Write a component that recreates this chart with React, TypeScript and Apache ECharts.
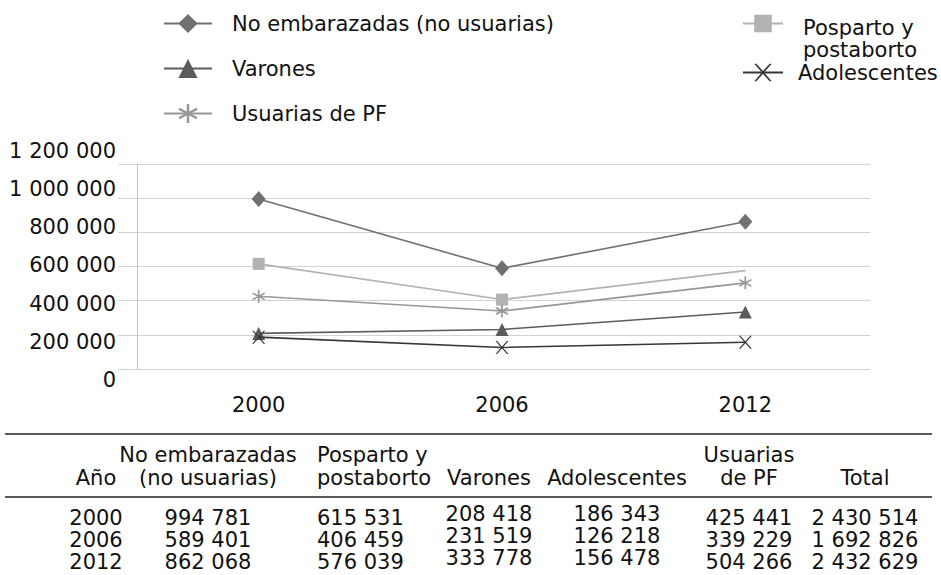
import React, { useEffect, useRef } from 'react';
import * as echarts from 'echarts';

// ---------- data ----------
const years = ['2000', '2006', '2012'];
const noEmbarazadas = [994781, 589401, 862068];
const posparto = [615531, 406459, 576039];
const usuariasPF = [425441, 339229, 504266];
const varones = [208418, 231519, 333778];
const adolescentes = [186343, 126218, 156478];
const totals = [2430514, 1692826, 2432629];

const nameNoEmb = 'No embarazadas (no usuarias)';
const namePosparto = 'Posparto y postaborto';
const nameUsuarias = 'Usuarias de PF';
const nameVarones = 'Varones';
const nameAdol = 'Adolescentes';

const yMin = 0;
const yMax = 1200000;
const yStep = 200000;

const tableHeaders = [
  ['', 'Año'],
  ['No embarazadas', '(no usuarias)'],
  ['Posparto y', 'postaborto'],
  ['', 'Varones'],
  ['', 'Adolescentes'],
  ['Usuarias', 'de PF'],
  ['', 'Total'],
];
const tableValues: (string | number)[][] = [years, noEmbarazadas, posparto, varones, adolescentes, usuariasPF, totals];

// ---------- layout / style ----------
const FONT = 'DejaVu Sans';
const TXT = '#111111';
const colX = [96, 208, 317, 489, 617, 749, 865];
const colAlign = ['center', 'center', 'left', 'center', 'center', 'center', 'center'];
const colShift = [0, 0, 0, -3.5, -3.5, 0, 0];
const headerY = [455, 477.5];
const rowY = [517.5, 539.5, 561.5];
const ruleY = [434, 497];

const ASTERISK = 'path://M44 0L56 0L56 100L44 100Z M9.7 19.8L96.3 69.8L90.3 80.2L3.7 30.2Z M3.7 69.8L90.3 19.8L96.3 30.2L9.7 80.2Z';
const CROSS = 'path://M0 0L12 0L50 42L88 0L100 0L56 50L100 100L88 100L50 58L12 100L0 100L44 50Z';

const fmt = (v: string | number) =>
  typeof v === 'string' ? v : String(v).replace(/\B(?=(\d{3})+(?!\d))/g, ' ');

function buildTable() {
  const els: any[] = [];
  ruleY.forEach((y) =>
    els.push({
      type: 'line',
      shape: { x1: 5, y1: y, x2: 932, y2: y },
      style: { stroke: '#222', lineWidth: 1.5 },
      silent: true,
    })
  );
  tableHeaders.forEach((lines, c) => {
    lines.forEach((t, li) => {
      if (!t) return;
      els.push({
        type: 'text',
        x: colX[c],
        y: headerY[li],
        silent: true,
        style: { text: t, fontSize: 21, fontFamily: FONT, fill: TXT, align: colAlign[c], verticalAlign: 'middle' },
      });
    });
  });
  tableValues.forEach((vals, c) => {
    vals.forEach((v, r) => {
      els.push({
        type: 'text',
        x: colX[c],
        y: rowY[r] + colShift[c],
        silent: true,
        style: { text: fmt(v), fontSize: 21, fontFamily: FONT, fill: TXT, align: colAlign[c], verticalAlign: 'middle' },
      });
    });
  });
  return els;
}

function buildOption(): any {
  const lineSeries = (name: string, data: any[], color: string, symbol: string, size: any, z: number) => ({
    type: 'line',
    name,
    data,
    xAxisIndex: 0,
    yAxisIndex: 0,
    symbol,
    symbolSize: size,
    showAllSymbol: true,
    lineStyle: { color, width: 1.6 },
    itemStyle: { color },
    emphasis: { disabled: true },
    z,
  });
  const legendText = { fontSize: 21, fontFamily: FONT, color: TXT };
  return {
    animation: false,
    backgroundColor: '#ffffff',
    textStyle: { fontFamily: FONT },
    legend: [
      {
        data: [nameNoEmb, nameVarones, nameUsuarias],
        orient: 'vertical',
        left: 163,
        top: 13,
        padding: 0,
        itemWidth: 48,
        itemHeight: 24,
        itemGap: 24,
        selectedMode: false,
        formatter: '{t|{name}}',
        textStyle: {
          ...legendText,
          rich: { t: { ...legendText, padding: [0, 0, 0, 15], lineHeight: 24 } },
        },
      },
      {
        data: [namePosparto],
        orient: 'vertical',
        left: 742,
        bottom: 515,
        padding: 0,
        itemWidth: 40,
        itemHeight: 22,
        selectedMode: false,
        formatter: (name: string) => {
          const parts = name.split(' y ');
          return '{e| }\n{a|' + parts[0] + ' y}\n{a|' + parts[1] + '}';
        },
        textStyle: {
          ...legendText,
          rich: {
            e: { fontSize: 2, lineHeight: 30 },
            a: { ...legendText, lineHeight: 22, padding: [0, 0, 0, 15] },
          },
        },
      },
      {
        data: [nameAdol],
        orient: 'vertical',
        left: 742,
        top: 62,
        padding: 0,
        itemWidth: 40,
        itemHeight: 22,
        selectedMode: false,
        formatter: '{c|{name}}',
        textStyle: {
          ...legendText,
          rich: { c: { ...legendText, lineHeight: 21, padding: [0, 0, 0, 10] } },
        },
      },
    ],
    grid: [
      { left: 137, right: 74, top: 164, bottom: 206 },
      { left: 118, right: 71, top: 164, bottom: 206 },
      { left: 125, right: 71, top: 150.7, bottom: 195 },
    ],
    xAxis: [
      {
        type: 'category',
        gridIndex: 0,
        data: years,
        boundaryGap: true,
        axisLine: { show: false },
        axisTick: { show: false },
        axisLabel: { fontSize: 21, fontFamily: FONT, color: TXT, margin: 25 },
        splitLine: { show: false },
      },
      { type: 'value', gridIndex: 1, show: false, min: 0, max: 1 },
      { type: 'value', gridIndex: 2, show: false, min: 0, max: 1 },
    ],
    yAxis: [
      {
        type: 'value',
        gridIndex: 0,
        min: yMin,
        max: yMax,
        interval: yStep,
        axisLine: { show: true, lineStyle: { color: '#c4c4c4', width: 1 } },
        axisTick: { show: false },
        axisLabel: { show: false },
        splitLine: { show: false },
      },
      {
        type: 'value',
        gridIndex: 1,
        min: yMin,
        max: yMax,
        interval: yStep,
        axisLine: { show: false },
        axisTick: { show: false },
        axisLabel: { show: false },
        splitLine: { show: true, lineStyle: { color: '#d2d2d2', width: 1.2 } },
      },
      {
        type: 'value',
        gridIndex: 2,
        min: yMin,
        max: yMax,
        interval: yStep,
        axisLine: { show: false },
        axisTick: { show: false },
        splitLine: { show: false },
        axisLabel: {
          fontSize: 21,
          fontFamily: FONT,
          color: TXT,
          margin: 9,
          formatter: (v: number) => fmt(v),
        },
      },
    ],
    series: [
      lineSeries(nameNoEmb, noEmbarazadas, '#707070', 'diamond', [14, 16], 5),
      lineSeries(
        namePosparto,
        posparto.map((v, i) => (i === posparto.length - 1 ? { value: v, symbol: 'none' } : v)),
        '#b2b2b2',
        'rect',
        12,
        4
      ),
      lineSeries(nameUsuarias, usuariasPF, '#979797', ASTERISK, 13, 6),
      lineSeries(nameVarones, varones, '#5c5c5c', 'triangle', 13, 7),
      lineSeries(nameAdol, adolescentes, '#363636', CROSS, 13, 8),
    ],
    graphic: { elements: buildTable() },
  };
}

export default function App() {
  const ref = useRef<HTMLDivElement>(null);
  useEffect(() => {
    if (!ref.current) return;
    const chart = echarts.init(ref.current, null, { renderer: 'svg' });
    chart.setOption(buildOption());
    return () => chart.dispose();
  }, []);
  return (
    <div
      ref={ref}
      style={{ position: 'absolute', left: 0, top: 0, width: 941, height: 575, background: '#fff' }}
    />
  );
}
